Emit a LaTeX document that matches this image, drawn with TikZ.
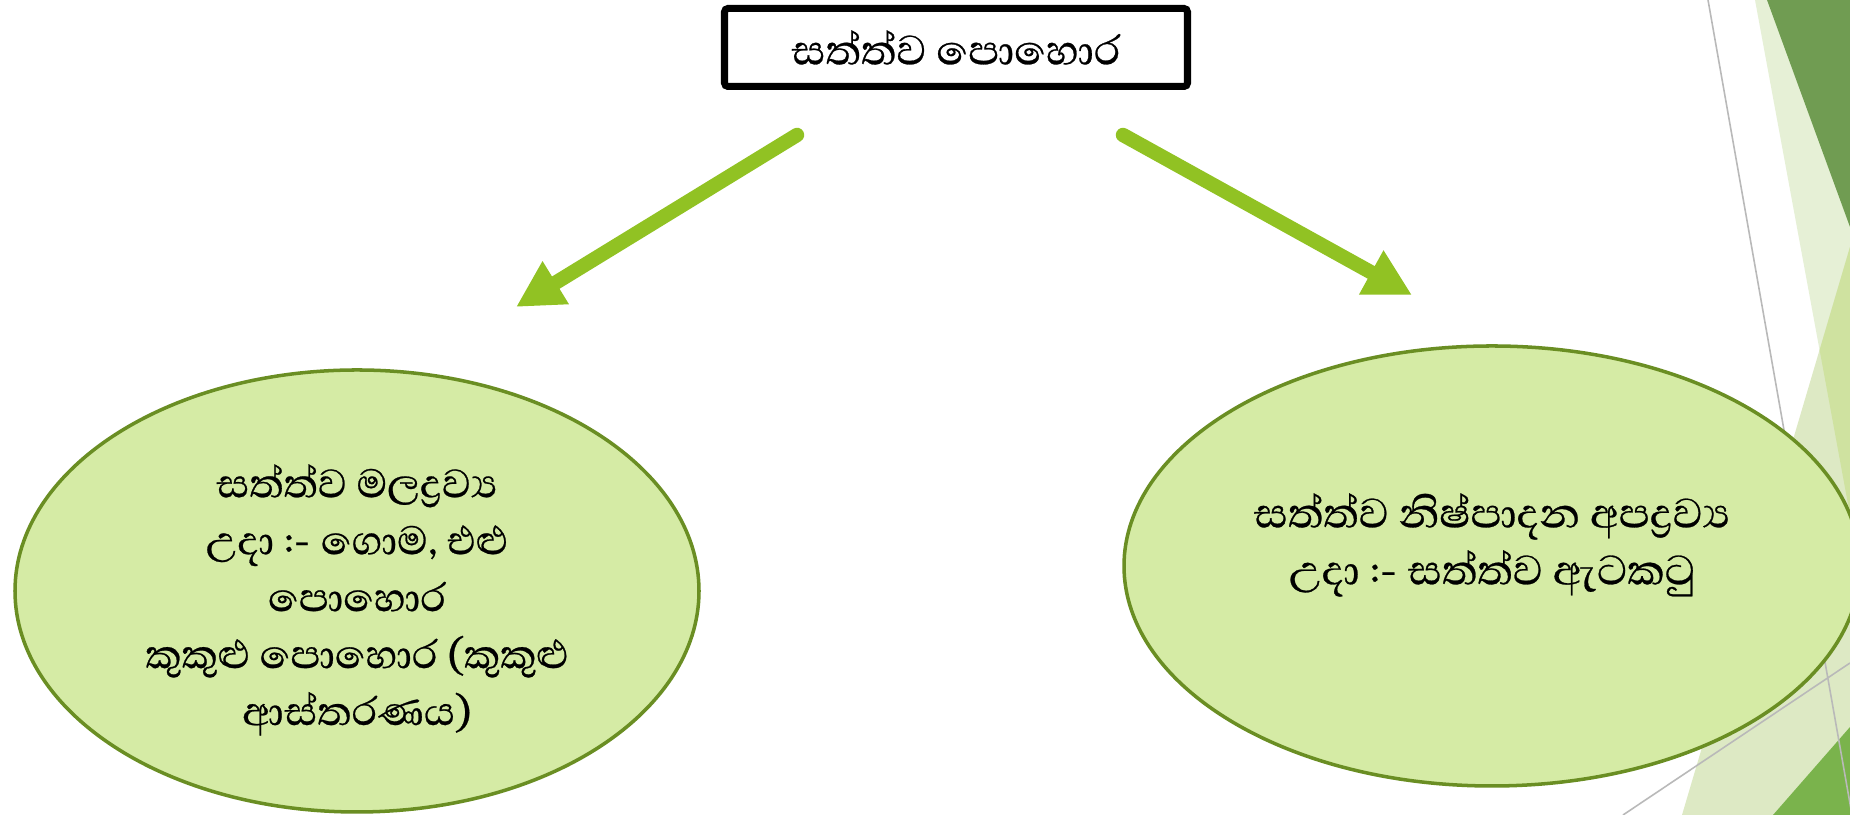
\documentclass[tikz,border=0pt]{standalone}
\usepackage{fontspec}
\setmainfont{Abhaya Libre}[Script=Sinhala,FakeBold=0.5]
\usepackage{tikz}
\usetikzlibrary{shapes.geometric,arrows.meta}

\definecolor{arrowgreen}{RGB}{145,194,35}
\definecolor{podfill}{RGB}{213,235,165}
\definecolor{poddraw}{RGB}{106,142,35}
\definecolor{facetpale}{RGB}{230,240,214}
\definecolor{facetdark}{RGB}{112,156,82}
\definecolor{facetmid}{RGB}{221,233,196}
\definecolor{facetmix}{RGB}{207,226,160}
\definecolor{facetbright}{RGB}{122,179,76}
\definecolor{facetline}{RGB}{185,185,185}

\tikzset{
  pod/.style={ellipse,draw=poddraw,fill=podfill,line width=1pt,inner sep=0pt},
  podtext/.style={align=center,font=\fontsize{14.5}{16.2}\selectfont},
  arr/.style={arrowgreen,line width=4.1pt,line cap=round,-{Triangle[length=4.66mm,width=4.7mm]}},
  titlebox/.style={draw,line width=2pt,rounded corners=1pt,minimum width=4.63cm,
    minimum height=0.78cm,inner sep=0pt,font=\fontsize{15}{18}\selectfont},
  facet/.style={line width=0.45pt,draw=facetline}
}

\begin{document}
\begin{tikzpicture}
    \useasboundingbox (0,0) rectangle (18.5,8.15);
    \fill[white] (0,0) rectangle (18.5,8.15);
    \fill[facetpale] (17.55,8.15) -- (18.5,8.15) -- (18.5,3.00) -- cycle;
    \fill[facetdark] (17.67,8.15) -- (18.5,8.15) -- (18.5,5.88) -- cycle;
    \fill[facetmid] (18.5,5.68) -- (16.82,0) -- (18.5,0) -- cycle;
    \fill[facetmix] (18.5,5.68) -- (18.196,4.65) -- (18.5,3.00) -- cycle;
    \fill[facetbright] (18.5,0.88) -- (17.73,0) -- (18.5,0) -- cycle;
    \draw[facet] (17.08,8.15) -- (18.52,0) (16.23,0) -- (18.5,1.52);%
    \node[titlebox] (fert) at (9.56,7.675) {සත්ත්ව පොහොර};
    \node[pod,minimum width=6.84cm,minimum height=4.42cm] (waste) at (3.57,2.24) {};
    \node[pod,minimum width=7.36cm,minimum height=4.40cm] (byprod) at (14.92,2.49) {};
    \node[podtext] (wastetext) at ([yshift=-0.09cm]waste.center)
        {සත්ත්ව මලද්^^^^200dරව්^^^^200dය\\උදා :- ගොම, එළු\\පොහොර\\කුකුළු පොහොර (කුකුළු\\ආස්තරණය)};
    \node[podtext,font=\fontsize{15}{16.2}\selectfont] (byprodtext) at ([yshift=0.21cm]byprod.center)
        {සත්ත්ව නිෂ්පාදන අපද්^^^^200dරව්^^^^200dය\\උදා :- සත්ත්ව ඇටකටු};
    \coordinate (lt) at (7.97,6.80);
    \coordinate (lh) at (5.16,5.08);
    \coordinate (rt) at (11.23,6.80);
    \coordinate (rh) at (14.12,5.20);
    \foreach \a/\b in {lt/lh,rt/rh}
        \draw[arr] (\a) -- (\b);
\end{tikzpicture}
\end{document}
